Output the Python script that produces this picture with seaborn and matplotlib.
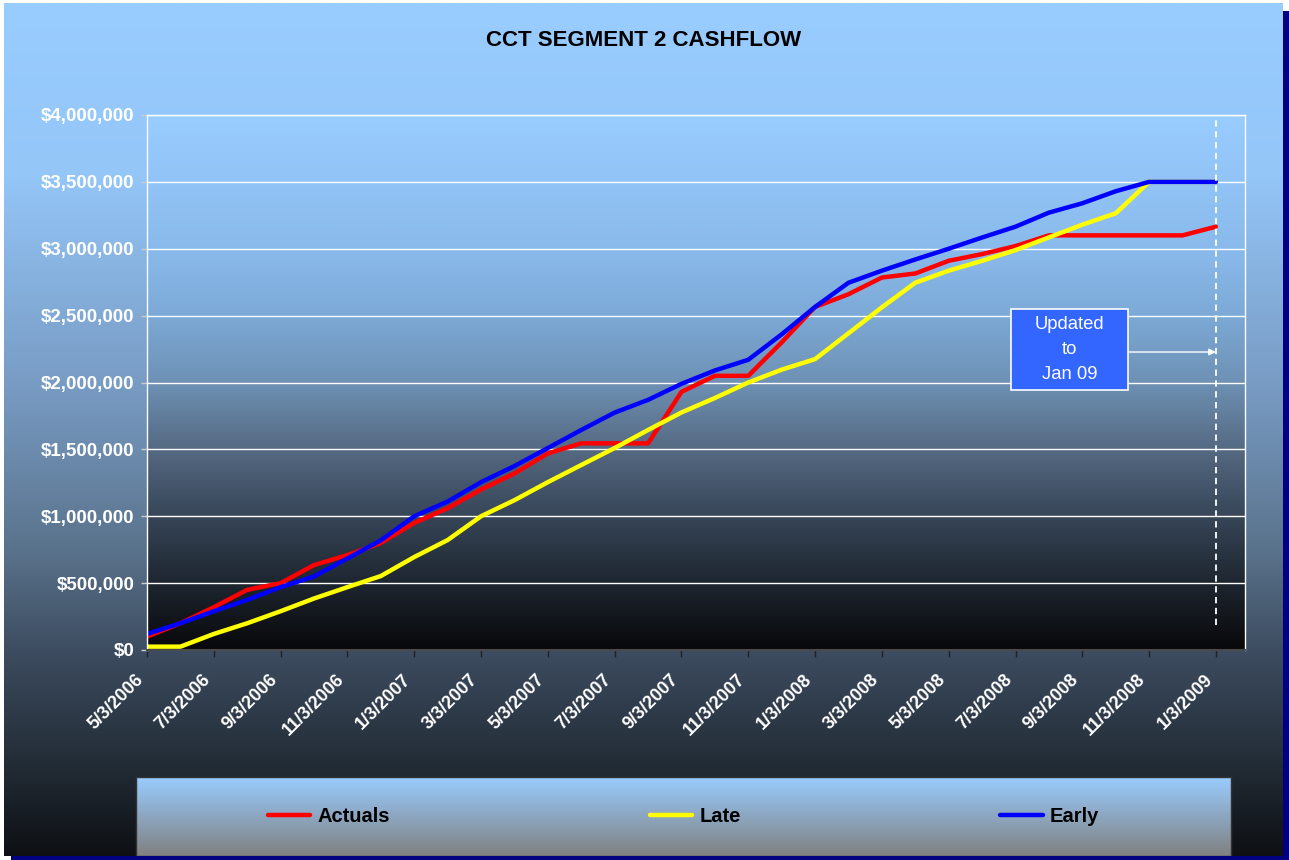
import numpy as np
import pandas as pd
import matplotlib
matplotlib.use("Agg")
import matplotlib.pyplot as plt
import matplotlib.transforms as mtransforms
import seaborn as sns
from matplotlib.patches import Rectangle
from matplotlib.ticker import FuncFormatter

# monthly cashflow points, May 2006 - Jan 2009
dates = [
    "5/3/2006", "6/3/2006", "7/3/2006", "8/3/2006", "9/3/2006", "10/3/2006",
    "11/3/2006", "12/3/2006", "1/3/2007", "2/3/2007", "3/3/2007", "4/3/2007",
    "5/3/2007", "6/3/2007", "7/3/2007", "8/3/2007", "9/3/2007", "10/3/2007",
    "11/3/2007", "12/3/2007", "1/3/2008", "2/3/2008", "3/3/2008", "4/3/2008",
    "5/3/2008", "6/3/2008", "7/3/2008", "8/3/2008", "9/3/2008", "10/3/2008",
    "11/3/2008", "12/3/2008", "1/3/2009",
]
actuals = [
    100000, 200000, 320000, 450000, 500000, 635000, 710000, 800000, 950000,
    1060000, 1200000, 1320000, 1470000, 1545000, 1545000, 1545000, 1930000,
    2050000, 2050000, 2300000, 2565000, 2660000, 2785000, 2815000, 2910000,
    2960000, 3020000, 3100000, 3100000, 3100000, 3100000, 3100000, 3165000,
]
late = [
    25000, 25000, 120000, 200000, 290000, 385000, 470000, 553000, 695000,
    822000, 1000000, 1120000, 1255000, 1383000, 1510000, 1645000, 1776000,
    1884000, 2000000, 2096000, 2175000, 2368000, 2562000, 2746000, 2836000,
    2910000, 2990000, 3085000, 3180000, 3265000, 3500000, 3500000, 3500000,
]
early = [
    120000, 200000, 290000, 375000, 470000, 550000, 685000, 820000, 1000000,
    1110000, 1255000, 1375000, 1510000, 1645000, 1775000, 1870000, 1990000,
    2090000, 2170000, 2360000, 2565000, 2746000, 2836000, 2920000, 3000000,
    3084000, 3165000, 3270000, 3340000, 3430000, 3500000, 3500000, 3500000,
]
series_names = ["Actuals", "Late", "Early"]
palette = {"Actuals": "#FF0000", "Late": "#FFFF00", "Early": "#0000FF"}

df = pd.concat(
    [
        pd.DataFrame({"date": dates, "value": vals, "series": name})
        for name, vals in zip(series_names, [actuals, late, early])
    ],
    ignore_index=True,
)


def gradient(stops, n=256):
    pos = np.linspace(0, 1, n)
    p = [s[0] for s in stops]
    rgb = np.array([s[1] for s in stops]) / 255.0
    cols = np.stack([np.interp(pos, p, rgb[:, c]) for c in range(3)], axis=1)
    return cols[:, None, :]


sns.set_theme(style="white")
plt.rcParams["font.family"] = ["Liberation Sans", "DejaVu Sans"]

W, H = 1289, 860
fig = plt.figure(figsize=(W / 100, H / 100), dpi=100)
fig.patch.set_facecolor("white")

# chart area background + navy shadow
bg = fig.add_axes([4 / W, 4 / H, 1279 / W, 853 / H])
bg.imshow(
    gradient([(0, (153, 204, 255)), (0.2, (148, 198, 248)), (0.45, (120, 155, 195)),
              (0.64, (90, 115, 140)), (0.765, (60, 75, 95)), (0.89, (35, 45, 55)),
              (1, (14, 16, 20))]),
    aspect="auto", extent=[0, 1, 0, 1], interpolation="bilinear",
)
bg.axis("off")
fig.add_artist(Rectangle((1283 / W, 0), 6 / W, (H - 11) / H,
                         transform=fig.transFigure, color="#000080", lw=0))
fig.add_artist(Rectangle((11 / W, 0), (W - 11) / W, 4 / H,
                         transform=fig.transFigure, color="#000080", lw=0))

pos = [147 / W, (H - 650) / H, (1245 - 147) / W, 535 / H]
pbg = fig.add_axes(pos)
pbg.imshow(
    gradient([(0, (153, 204, 255)), (0.25, (138, 186, 236)), (0.37, (125, 170, 215)),
              (0.5, (110, 145, 180)), (0.625, (85, 105, 130)), (0.75, (55, 70, 88)),
              (0.875, (30, 38, 48)), (1, (8, 8, 10))]),
    aspect="auto", extent=[0, 1, 0, 1], interpolation="bilinear",
)
pbg.axis("off")

ax = fig.add_axes(pos)
ax.patch.set_alpha(0)
sns.lineplot(
    data=df, x="date", y="value", hue="series", hue_order=series_names,
    palette=palette, linewidth=3.2, sort=False, estimator=None, ax=ax,
)
handles, labels = ax.get_legend_handles_labels()
ax.get_legend().remove()

ax.set_xlim(0, len(dates) - 1 + 0.87)
ax.set_ylim(0, 4000000)
ax.set_yticks(np.arange(0, 4000001, 500000))
ax.yaxis.set_major_formatter(FuncFormatter(lambda v, p: f"${v:,.0f}"))
ax.set_xticks(range(0, len(dates), 2))
ax.set_xticklabels(dates[::2], rotation=45, ha="right", rotation_mode="anchor")
ax.set_xlabel("")
ax.set_ylabel("")
ax.yaxis.grid(True, color="white", lw=1)
ax.xaxis.grid(False)

ax.tick_params(axis="y", left=True, length=4, width=1, color="#cccccc", pad=5)
ax.tick_params(axis="x", bottom=True, length=5, width=1, color="#222222", pad=8)

# nudge the slanted date labels left, like the original
shift = mtransforms.ScaledTranslation(-0.12, -0.03, fig.dpi_scale_trans)
for lab in ax.get_xticklabels():
    lab.set_color("white")
    lab.set_fontweight("bold")
    lab.set_fontsize(13)
    lab.set_transform(lab.get_transform() + shift)
for lab in ax.get_yticklabels():
    lab.set_color("white")
    lab.set_fontweight("bold")
    lab.set_fontsize(13.5)

for side in ["left", "top", "right"]:
    ax.spines[side].set_color("white")
    ax.spines[side].set_linewidth(1)
ax.spines["bottom"].set_color("#4a4a4a")
ax.spines["bottom"].set_linewidth(1.5)

# "updated to" marker
ax.axvline(len(dates) - 1, ymin=0.047, ymax=1, color="white", lw=1.3,
           linestyle=(0, (3.5, 2.5)), zorder=4)
bx, by, bw, bh = 0.787, 0.486, 0.1066, 0.1514
ax.add_patch(Rectangle((bx, by), bw, bh, transform=ax.transAxes,
                       facecolor="#3366FF", edgecolor="white", lw=1.2, zorder=5))
ax.text(bx + bw / 2, by + bh / 2, "Updated\nto\nJan 09", transform=ax.transAxes,
        ha="center", va="center", color="white", fontsize=13.3,
        linespacing=1.6, zorder=6)
ax.annotate(
    "", xy=(len(dates) - 1, 0.557), xycoords=("data", "axes fraction"),
    xytext=(bx + bw, 0.557), textcoords="axes fraction",
    arrowprops=dict(arrowstyle="-|>", color="white", lw=1,
                    mutation_scale=10, shrinkA=0, shrinkB=0),
    zorder=6,
)

fig.text(643.5 / W, 1 - 40 / H, "CCT SEGMENT 2 CASHFLOW", ha="center",
         va="center", fontsize=16, fontweight="bold", color="black")

# legend panel
lax = fig.add_axes([136 / W, 4 / H, 1095 / W, 79 / H])
lax.imshow(gradient([(0, (153, 204, 255)), (1, (128, 128, 128))]),
           aspect="auto", extent=[0, 1, 0, 1], interpolation="bilinear")
lax.set_xticks([])
lax.set_yticks([])
for s in lax.spines.values():
    s.set_color("#333333")
    s.set_linewidth(1)
leg = lax.legend(
    handles, labels, loc="center", ncol=3, frameon=False,
    prop={"weight": "bold", "size": 14.5}, handlelength=2.1,
    handletextpad=0.36, columnspacing=12.9,
)
for txt in leg.get_texts():
    txt.set_color("black")
for line in leg.get_lines():
    line.set_linewidth(3.2)

fig.savefig("out.png", dpi=100)
